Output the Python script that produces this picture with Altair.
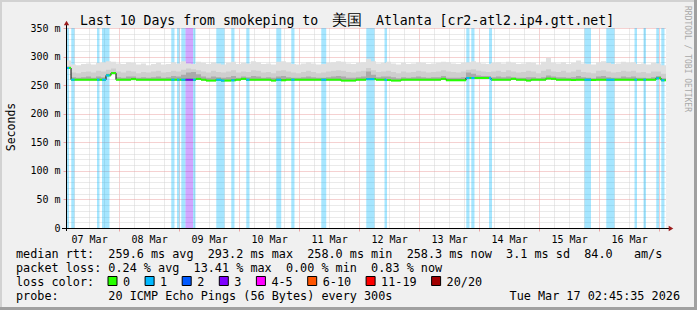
import json
import altair as alt
import pandas as pd

# ---------------- data ----------------
T_START = 2.7597          # 07 Mar 02:45:35, hours after 07 Mar 00:00
BIN_HOURS = 2.0
SPAN_HOURS = 240.0

median_ms = [
    280, 259.5, 259.5, 259.5, 259.5, 259.5, 259.5, 259.5, 267, 271,
    259.5, 259.5, 259.5, 260.5, 259.5, 259.5, 259.5, 259.5, 259.5, 259.5,
    259.5, 259.5, 259.5, 259.5, 259.5, 259.5, 261, 259.5, 258, 258,
    259.5, 258, 258, 258.5, 259.5, 261, 259.5, 259.5, 259.5, 259.5,
    259.5, 258, 259.5, 258.5, 259.5, 259.5, 259.5, 259.5, 259.5, 259.5,
    259.5, 259.5, 259.5, 259.5, 259.5, 258, 258, 258, 259.5, 259.5,
    260.5, 260.5, 259.5, 259.5, 259, 258, 258, 259.5, 259.5, 259.5,
    259.5, 259.5, 259.5, 259.5, 259.5, 261, 258.5, 258.5, 258.5, 258.5,
    262.5, 262.5, 262.5, 262.5, 262.5, 259.5, 259.5, 259.5, 259.5, 261,
    259.5, 259.5, 258, 259.5, 259.5, 259.5, 261.5, 261, 259.5, 259.5,
    259.5, 259, 259.5, 259.5, 259.5, 259, 259.5, 259.5, 259.5, 259.5,
    259.5, 259.5, 259.5, 259.5, 259.5, 259.5, 259.5, 259.5, 262, 258.5,
]

smoke_max = [
    293, 286, 285, 287, 288, 286, 289, 290, 292, 291, 288, 287, 290, 289, 286, 288, 285, 287, 289, 286,
    287, 290, 288, 292, 288, 287, 291, 289, 287, 290, 288, 286, 289, 291, 287, 289, 288, 292, 290, 287,
    288, 286, 291, 292, 289, 287, 286, 288, 290, 288, 286, 287, 289, 290, 292, 291, 288, 287, 289, 290,
    296, 292, 288, 289, 291, 288, 286, 289, 287, 288, 290, 289, 287, 288, 289, 291, 290, 288, 287, 289,
    290, 292, 289, 288, 287, 289, 290, 288, 291, 289, 287, 288, 290, 289, 286, 291, 298, 289, 288, 290,
    287, 289, 293, 288, 287, 286, 290, 292, 289, 287, 288, 291, 289, 290, 287, 288, 286, 289, 288, 285,
]

smoke_mid = [
    283, 272, 271, 273, 274, 272, 275, 274, 277, 279, 274, 272, 275, 274, 271, 273, 272, 274, 275, 272,
    273, 275, 274, 277, 279, 278, 276, 274, 272, 275, 273, 272, 274, 276, 272, 274, 273, 276, 275, 272,
    273, 271, 275, 276, 274, 272, 271, 273, 275, 273, 271, 272, 274, 275, 276, 275, 273, 272, 274, 275,
    280, 276, 273, 274, 275, 273, 271, 274, 272, 273, 275, 274, 272, 273, 274, 276, 274, 273, 272, 274,
    277, 278, 275, 274, 273, 274, 275, 273, 276, 274, 272, 273, 275, 274, 271, 275, 278, 274, 273, 275,
    272, 274, 277, 273, 272, 271, 275, 276, 274, 272, 273, 275, 274, 275, 272, 273, 271, 274, 274, 270,
]

smoke_core = [
    282, 264, 263, 264, 265, 263, 265, 264, 270, 273, 264, 263, 265, 265, 263, 264, 263, 264, 265, 263,
    264, 266, 265, 268, 272, 273, 269, 265, 263, 265, 264, 263, 264, 266, 263, 265, 264, 266, 265, 263,
    264, 263, 265, 266, 264, 263, 263, 264, 265, 264, 263, 263, 264, 265, 266, 265, 263, 263, 264, 265,
    274, 268, 264, 265, 265, 264, 262, 264, 263, 264, 265, 264, 263, 264, 264, 266, 263, 263, 263, 264,
    272, 270, 267, 266, 266, 264, 265, 264, 265, 264, 263, 263, 264, 264, 262, 264, 267, 265, 264, 264,
    263, 264, 266, 264, 263, 262, 265, 266, 264, 263, 263, 265, 264, 265, 263, 263, 262, 264, 266, 262,
]

# loss events: hours after graph start, and number of lost pings (of 20)
loss_start_h = [0.0, 2.1, 12.4, 14.4, 42.1, 44.4, 46.1, 47.8, 50.8, 60.1, 66.1, 72.1, 84.1,
                90.1, 102.1, 120.1, 127.4, 160.1, 162.1, 169.2, 207.4, 216.1, 227.4, 231.0,
                236.1, 238.1]
loss_end_h = [1.2, 3.4, 13.4, 17.4, 43.4, 45.4, 47.8, 50.8, 51.8, 63.4, 67.4, 73.4, 86.1,
              91.4, 104.1, 123.4, 128.4, 161.4, 163.4, 170.4, 210.0, 219.4, 228.4, 232.0,
              237.2, 239.4]
loss_pings = [1, 1, 1, 1, 1, 1, 1, 3, 1, 1, 1, 1, 1, 1, 1, 1, 1, 1, 1, 1, 1, 1, 1, 1, 1, 1]

day_labels = ["07 Mar", "08 Mar", "09 Mar", "10 Mar", "11 Mar",
              "12 Mar", "13 Mar", "14 Mar", "15 Mar", "16 Mar"]

loss_legend_labels = ["0", "1", "2", "3", "4-5", "6-10", "11-19", "20/20"]
loss_legend_colors = ["#26ff00", "#00b8ff", "#0059ff", "#7e00ff",
                      "#ff00ff", "#ff5500", "#ff0000", "#a10000"]
loss_color_by_pings = {1: "#00b8ff", 2: "#0059ff", 3: "#7e00ff"}

title_left = "Last 10 Days from smokeping to"
title_cjk = "美国"
title_right = "Atlanta [cr2-atl2.ip4.gtt.net]"
y_title = "Seconds"
side_text = "RRDTOOL / TOBI OETIKER"
stat_rows = [
    "median rtt:  259.6 ms avg  293.2 ms max  258.0 ms min  258.3 ms now  3.1 ms sd  84.0   am/s",
    "packet loss: 0.24 % avg  13.41 % max  0.00 % min  0.83 % now",
    "loss color:",
    "probe:       20 ICMP Echo Pings (56 Bytes) every 300s",
]
date_text = "Tue Mar 17 02:45:35 2026"

# ---------------- layout / style ----------------
PAD_L, PAD_T, W, H = 66, 28, 600, 200
MONO = "DejaVu Sans Mono"
GRID = "#d4d4d4"
MGRID = "#eaa2a2"
ARROW = "#9b1c1c"


def nb(s):
    return s.replace(" ", "\u00a0")


n = len(median_ms)
t_end = T_START + SPAN_HOURS
bins = pd.DataFrame({
    "t0": [T_START + i * BIN_HOURS for i in range(n)],
    "t1": [T_START + (i + 1) * BIN_HOURS for i in range(n)],
    "med": median_ms, "top": smoke_max, "mid": smoke_mid, "core": smoke_core,
})
steps = pd.concat([bins, bins.tail(1).assign(t0=t_end)], ignore_index=True)

bars = pd.DataFrame({
    "t0": [T_START + s for s in loss_start_h],
    "t1": [T_START + e for e in loss_end_h],
    "lo": 0, "hi": 350,
    "col": [loss_color_by_pings[c] for c in loss_pings],
})

seg_rows = []
for s, e, c in zip(loss_start_h, loss_end_h, loss_pings):
    i0 = int(s // BIN_HOURS)
    i1 = min(int((e - 1e-9) // BIN_HOURS), n - 1)
    for i in range(i0, i1 + 1):
        lo = max(T_START + s, T_START + i * BIN_HOURS)
        hi = min(T_START + e, T_START + (i + 1) * BIN_HOURS)
        seg_rows.append({"t0": lo, "t1": hi, "med": median_ms[i], "col": loss_color_by_pings[c]})
segs = pd.DataFrame(seg_rows)

xs = alt.Scale(domain=[T_START, t_end], nice=False, zero=False)
ys = alt.Scale(domain=[0, 350], nice=False)

label_arr = json.dumps(day_labels)
x_axis = alt.Axis(
    values=list(range(6, 241, 6)), title=None, domain=False,
    labelExpr=f"datum.value % 24 == 12 ? {label_arr}[floor(datum.value / 24)] : ''",
    grid=True, gridDash=[1, 1], gridWidth=1, gridOpacity=1,
    gridColor={"condition": {"test": "datum.value % 24 == 0", "value": MGRID}, "value": GRID},
    ticks=True, tickSize=3,
    tickColor={"condition": {"test": "datum.value % 24 == 0", "value": MGRID}, "value": "transparent"},
    labelFont=MONO, labelFontSize=10, labelColor="#000000", labelPadding=3,
    labelOverlap=False, labelFlush=False, labelBound=False, orient="bottom",
)
y_axis = alt.Axis(
    values=list(range(0, 351, 10)), title=None, domain=False,
    labelExpr="datum.value % 50 == 0 ? (datum.value == 0 ? '0\u00a0\u00a0' : datum.value + '\u00a0m') : ''",
    grid=True, gridDash=[1, 1], gridWidth=1, gridOpacity=1,
    gridColor={"condition": {"test": "datum.value % 50 == 0", "value": MGRID}, "value": GRID},
    ticks=True, tickSize=3,
    tickColor={"condition": {"test": "datum.value % 50 == 0", "value": MGRID}, "value": "transparent"},
    labelFont=MONO, labelFontSize=10, labelColor="#000000", labelPadding=3,
    labelOverlap=False, labelFlush=False, orient="left",
)

XT = alt.X("t0:Q", scale=xs, axis=x_axis)


def Ymed(field="med"):
    return alt.Y(f"{field}:Q", scale=ys, axis=y_axis)


loss_bars = alt.Chart(bars).mark_rect(opacity=0.35).encode(
    x=XT, x2="t1", y=Ymed("lo"), y2="hi",
    color=alt.Color("col:N", scale=None),
)


def smoke(field, colour):
    return alt.Chart(steps).mark_area(interpolate="step-after", color=colour).encode(
        x=XT, y=Ymed(), y2=field,
    )


smoke_light = smoke("top", "#e0e0e0")
smoke_medium = smoke("mid", "#cecece")
smoke_dark = smoke("core", "#aaaaaa")

median_steps = alt.Chart(steps).mark_line(interpolate="step-after", color="#000000", strokeWidth=1).encode(
    x=XT, y=Ymed())
median_green = alt.Chart(bins).mark_rule(color="#26ff00", strokeWidth=2).encode(
    x=XT, x2="t1", y=Ymed())
median_loss = alt.Chart(segs).mark_rule(strokeWidth=2).encode(
    x=XT, x2="t1", y=Ymed(), color=alt.Color("col:N", scale=None))

plot = alt.layer(loss_bars, smoke_light, smoke_medium, smoke_dark,
                 median_steps, median_green, median_loss)

# ---------------- annotations (pixel positions, plot origin = 0,0) ----------------
PX = alt.X("px:Q", scale=None, axis=None)
PY = alt.Y("py:Q", scale=None, axis=None)


def text_layer(rows, **mark):
    df = pd.DataFrame(rows)
    return alt.Chart(df).mark_text(font=MONO, color="#000000", **mark).encode(
        x=PX, y=PY, text="txt:N")


row_base = [230.3, 244.3, 258.3, 272.0]
legend_text = text_layer(
    [{"px": 16 - PAD_L, "py": y, "txt": nb(t)} for t, y in zip(stat_rows, row_base)],
    fontSize=11.8, align="left", baseline="alphabetic")
date_layer = text_layer([{"px": 680 - PAD_L, "py": row_base[3], "txt": nb(date_text)}],
                        fontSize=11.8, align="right", baseline="alphabetic")

sq_x, x0 = [], 108.0
for lab in loss_legend_labels:
    sq_x.append(x0)
    x0 += 30 + 7.1 * len(lab)
squares = alt.Chart(pd.DataFrame({
    "px": [x - PAD_L for x in sq_x], "px2": [x - PAD_L + 9 for x in sq_x],
    "py": 276.5 - PAD_T, "py2": 285.5 - PAD_T, "col": loss_legend_colors,
})).mark_rect(stroke="#000000", strokeWidth=1).encode(
    x=PX, x2="px2", y=PY, y2="py2", fill=alt.Fill("col:N", scale=None))
square_labels = text_layer(
    [{"px": x - PAD_L + 15, "py": row_base[2], "txt": lab} for x, lab in zip(sq_x, loss_legend_labels)],
    fontSize=11.8, align="left", baseline="alphabetic")

title_a = text_layer([{"px": 80 - PAD_L, "py": 25 - PAD_T, "txt": title_left}],
                     fontSize=13.2, align="left", baseline="alphabetic")
title_b = text_layer([{"px": 347 - PAD_L, "py": 25 - PAD_T, "txt": title_cjk}],
                     fontSize=15, align="center", baseline="alphabetic")
title_c = text_layer([{"px": 376 - PAD_L, "py": 25 - PAD_T, "txt": title_right}],
                     fontSize=13.2, align="left", baseline="alphabetic")
ytitle = text_layer([{"px": 15 - PAD_L, "py": 127 - PAD_T, "txt": y_title}],
                    fontSize=11.5, align="center", baseline="alphabetic", angle=270)
side = alt.Chart(pd.DataFrame([{"px": 685 - PAD_L, "py": 59 - PAD_T, "txt": side_text}])).mark_text(
    font=MONO, fontSize=8, color="#a8a8a8", align="center", baseline="alphabetic", angle=90
).encode(x=PX, y=PY, text="txt:N")

# frame shading and axis lines with arrows
frame = alt.Chart(pd.DataFrame([
    {"px": -PAD_L, "px2": 697 - PAD_L, "py": -PAD_T, "py2": 2 - PAD_T, "col": "#d2d2d2"},
    {"px": -PAD_L, "px2": 2 - PAD_L, "py": -PAD_T, "py2": 310 - PAD_T, "col": "#d2d2d2"},
    {"px": -PAD_L, "px2": 697 - PAD_L, "py": 307 - PAD_T, "py2": 310 - PAD_T, "col": "#a0a0a0"},
    {"px": 694 - PAD_L, "px2": 697 - PAD_L, "py": -PAD_T, "py2": 310 - PAD_T, "col": "#a0a0a0"},
])).mark_rect().encode(x=PX, x2="px2", y=PY, y2="py2", fill=alt.Fill("col:N", scale=None))

axis_lines = alt.Chart(pd.DataFrame([
    {"px": 0.5, "px2": 0.5, "py": -4, "py2": 203},
    {"px": -4, "px2": 603, "py": 200.5, "py2": 200.5},
])).mark_rule(color="#000000", strokeWidth=1).encode(x=PX, x2="px2", y=PY, y2="py2")
arrows = alt.Chart(pd.DataFrame([
    {"px": 0.5, "py": -5, "shape": "triangle-up"},
    {"px": 605, "py": 200.5, "shape": "triangle-right"},
])).mark_point(filled=True, size=28, color=ARROW, opacity=1).encode(
    x=PX, y=PY, shape=alt.Shape("shape:N", scale=None))

chart = alt.layer(
    plot, frame, axis_lines, arrows, title_a, title_b, title_c, ytitle, side,
    legend_text, date_layer, squares, square_labels,
).resolve_scale(x="independent", y="independent", color="independent",
                fill="independent", shape="independent").properties(
    width=W, height=H,
    padding={"left": PAD_L, "top": PAD_T, "right": 697 - PAD_L - W, "bottom": 310 - PAD_T - H},
    autosize=alt.AutoSizeParams(type="none"),
    background="#f0f0f0",
).configure_view(stroke=None, fill="#ffffff")

chart.save("out.html", embed_options={"renderer": "svg", "actions": False})
